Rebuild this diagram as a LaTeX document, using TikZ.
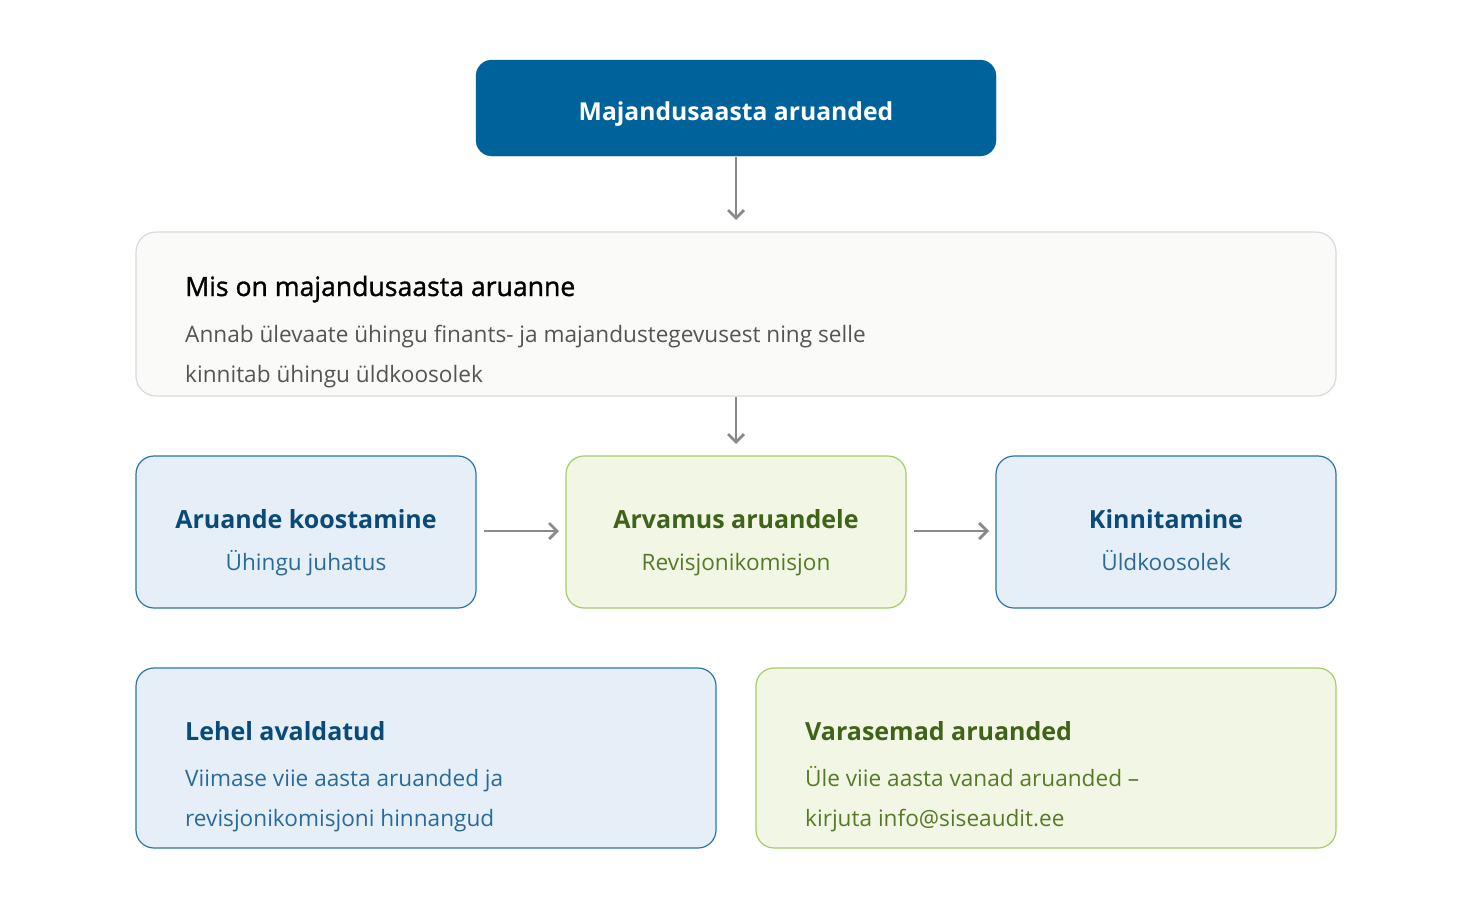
\documentclass[tikz,border=0pt]{standalone}
\usepackage{fontspec}
\setmainfont{Open Sans}
\usetikzlibrary{arrows.meta}
\definecolor{topblue}{HTML}{00629B}
\definecolor{infofill}{HTML}{FAFAF9}
\definecolor{infoline}{HTML}{DADADA}
\definecolor{bluefill}{HTML}{E6EFF7}
\definecolor{blueline}{HTML}{2B73AD}
\definecolor{bluehead}{HTML}{0A4A78}
\definecolor{bluetext}{HTML}{2A6A98}
\definecolor{greenfill}{HTML}{F1F7E4}
\definecolor{greenline}{HTML}{A6CB68}
\definecolor{greenhead}{HTML}{40631A}
\definecolor{greentext}{HTML}{567A28}
\definecolor{arrowgray}{HTML}{8A8A88}
\definecolor{bodygray}{HTML}{555555}
\tikzset{
  x=1pt, y=-1pt,
  box/.style={rounded corners=18pt, line width=1.2pt},
  bluebox/.style={box, draw=blueline, fill=bluefill},
  greenbox/.style={box, draw=greenline, fill=greenfill},
  conn/.style={draw=arrowgray, line width=2.8pt, -{Straight Barb[length=8pt,width=16pt,line width=2.8pt]}},
  headtxt/.style={font=\fontsize{25}{30}\selectfont\bfseries, anchor=base, inner sep=0pt},
  subtxt/.style={font=\fontsize{22.6}{26}\selectfont, anchor=base, inner sep=0pt},
}
\begin{document}
\begin{tikzpicture}
\useasboundingbox (0,0) rectangle (1472,908);
% top
\draw[fill=topblue, draw=topblue, rounded corners=16pt] (476,60) rectangle (996,156);
\node[text=white, headtxt, font=\fontsize{24.7}{30}\selectfont\bfseries] (top) at (736,120) {Majandusaasta aruanded};
\coordinate (topS) at (736,157);
% info
\draw[fill=infofill, draw=infoline, line width=1.2pt, rounded corners=20pt] (136,232) rectangle (1336,396);
\coordinate (infoN) at (736,220);
\coordinate (infoS) at (736,397);
\node[headtxt, anchor=base west, font=\fontsize{26.6}{30}\selectfont, text=black] (infoh) at (185,296) {\addfontfeatures{FakeBold=1.2}Mis on majandusaasta aruanne};
\node[subtxt, anchor=base west, text=bodygray] (infol1) at (185,342) {Annab ülevaate ühingu finants- ja majandustegevusest ning selle};
\node[subtxt, anchor=base west, text=bodygray] (infol2) at (185,382) {kinnitab ühingu üldkoosolek};
% row
\draw[bluebox] (136,456) rectangle (476,608);
\draw[greenbox] (566,456) rectangle (906,608);
\draw[bluebox] (996,456) rectangle (1336,608);
\node[headtxt, text=bluehead] (ah) at (306,528) {Aruande koostamine};
\node[subtxt, text=bluetext] (as) at (306,570) {Ühingu juhatus};
\node[headtxt, text=greenhead] (bh) at (736,528) {Arvamus aruandele};
\node[subtxt, text=greentext] (bs) at (736,570) {Revisjonikomisjon};
\node[headtxt, text=bluehead] (ch) at (1166,528) {Kinnitamine};
\node[subtxt, text=bluetext] (cs) at (1166,570) {Üldkoosolek};
\coordinate (bN) at (736,444);
\coordinate (aE) at (484,531);
\coordinate (bW) at (559,531);
\coordinate (bE) at (914,531);
\coordinate (cW) at (989,531);
% bottom
\draw[bluebox] (136,668) rectangle (716,848);
\draw[greenbox] (756,668) rectangle (1336,848);
\node[headtxt, anchor=base west, text=bluehead] (lh) at (185,740) {Lehel avaldatud};
\node[subtxt, anchor=base west, text=bluetext] (l1) at (185,786) {Viimase viie aasta aruanded ja};
\node[subtxt, anchor=base west, text=bluetext] (l2) at (185,826) {revisjonikomisjoni hinnangud};
\node[headtxt, anchor=base west, text=greenhead] (rh) at (805,740) {Varasemad aruanded};
\node[subtxt, anchor=base west, text=greentext] (r1) at (805,786) {Üle viie aasta vanad aruanded –};
\node[subtxt, anchor=base west, text=greentext] (r2) at (805,826) {kirjuta info@siseaudit.ee};
% connectors
\draw[conn] (topS) -- (infoN);
\draw[conn] (infoS) -- (bN);
\draw[conn] (aE) -- (bW);
\draw[conn] (bE) -- (cW);
\end{tikzpicture}
\end{document}
